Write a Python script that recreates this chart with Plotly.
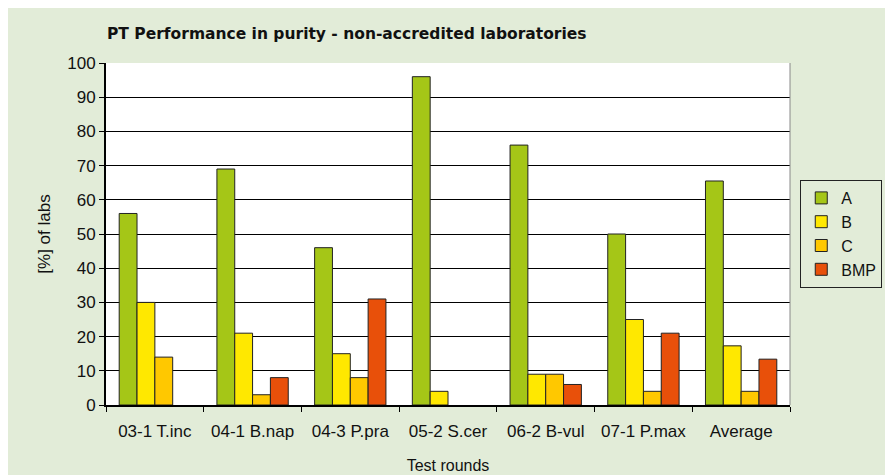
import plotly.graph_objects as go

rounds = ['03-1 T.inc', '04-1 B.nap', '04-3 P.pra', '05-2 S.cer',
          '06-2 B-vul', '07-1 P.max', 'Average']
a_vals = [56, 69, 46, 96, 76, 50, 65.5]
b_vals = [30, 21, 15, 4, 9, 25, 17.3]
c_vals = [14, 3, 8, 0, 9, 4, 4]
bmp_vals = [0, 8, 31, 0, 6, 21, 13.4]

series = [('A', a_vals, '#A5C617'), ('B', b_vals, '#FFE800'),
          ('C', c_vals, '#FFC800'), ('BMP', bmp_vals, '#E8500A')]

fig = go.Figure()
for name, vals, col in series:
    # zero bars are not drawn at all in the original (no outline)
    fig.add_trace(go.Bar(x=rounds, y=[v if v else None for v in vals], name=name,
                         marker_color=col, marker_line_color='#222222',
                         marker_line_width=1))

fig.update_layout(
    width=893, height=475,
    barmode='group', bargap=0.27, bargroupgap=0,
    paper_bgcolor='#E2ECD8', plot_bgcolor='white',
    margin=dict(l=98, r=111, t=55, b=78, autoexpand=False),
    font=dict(family='Liberation Sans, Arial', size=17, color='#111111'),
    title=dict(text='<b>PT Performance in purity - non-accredited laboratories</b>',
               x=99/893, xanchor='left', y=0.947, yanchor='middle',
               font=dict(family='DejaVu Sans, Liberation Sans', size=15.5)),
    legend=dict(x=1.015, xanchor='left', y=0.5, yanchor='middle',
                bgcolor='#E2ECD8', bordercolor='#222222', borderwidth=1,
                font=dict(size=16), itemwidth=30),
)
fig.update_xaxes(title_text='Test rounds', title_font_size=16, title_standoff=19,
                 tickangle=0, tickson='boundaries', ticks='outside',
                 ticklabelstandoff=10,
                 ticklen=5, tickcolor='black', showline=True, linecolor='black',
                 linewidth=2, showgrid=False, mirror=False)
fig.update_yaxes(title_text='[%] of labs', title_font_size=17, title_standoff=12,
                 range=[0, 100], dtick=10,
                 ticks='outside', ticklen=5, tickcolor='black',
                 showline=True, linecolor='black', linewidth=2,
                 gridcolor='black', gridwidth=1, zeroline=False)
# right border of the plot area
fig.add_shape(type='line', xref='paper', yref='paper', x0=1, x1=1, y0=0, y1=1,
              line=dict(color='#888888', width=1))

fig.write_html('out.html')
